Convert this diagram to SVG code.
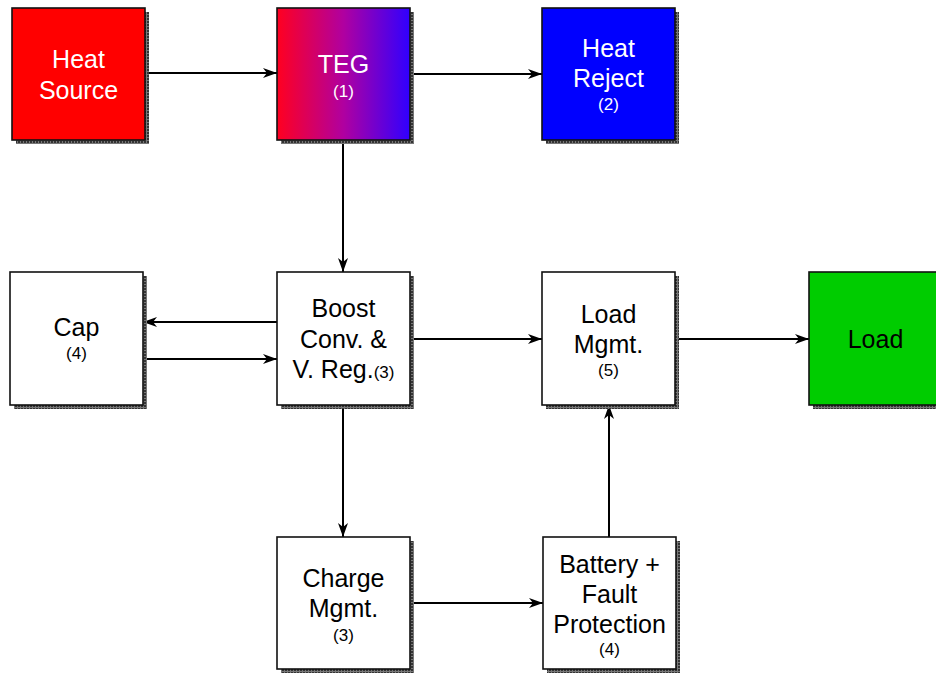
<svg xmlns="http://www.w3.org/2000/svg" width="936" height="673" viewBox="0 0 936 673">
<style>
.box{stroke:#111;stroke-width:1.6}
.sh{fill:url(#chk);stroke:none}
.t{font-family:"Liberation Sans",Arial,sans-serif;font-size:25px;text-anchor:middle;fill:#000}
.w{fill:#fff}
.s{font-size:17px}
.c{fill:none;stroke:#000;stroke-width:2;marker-end:url(#arr)}
</style>
<defs>
<pattern id="chk" width="3" height="3" patternUnits="userSpaceOnUse">
<rect width="3" height="3" fill="#777"/>
<rect width="2" height="2" fill="#333"/>
</pattern>
<linearGradient id="teg" x1="0" y1="0" x2="1" y2="0">
<stop offset="0" stop-color="#ff0020"/>
<stop offset="0.5" stop-color="#b000a0"/>
<stop offset="1" stop-color="#3000ff"/>
</linearGradient>
<marker id="arr" viewBox="0 0 14 10" refX="14" refY="5" markerWidth="14" markerHeight="10" markerUnits="userSpaceOnUse" orient="auto">
<path d="M0,0 L14,5 L0,10 L4,5 Z" fill="#000"/>
</marker>
</defs>
<g id="connectors">
<line class="c" x1="145" y1="73" x2="277" y2="73"/>
<line class="c" x1="410" y1="74" x2="542" y2="74"/>
<line class="c" x1="343" y1="140" x2="343" y2="272"/>
<line class="c" x1="277" y1="322" x2="143" y2="322"/>
<line class="c" x1="143" y1="359" x2="277" y2="359"/>
<line class="c" x1="410" y1="339" x2="542" y2="339"/>
<line class="c" x1="675" y1="339" x2="809" y2="339"/>
<line class="c" x1="343" y1="405" x2="343" y2="537"/>
<line class="c" x1="410" y1="603" x2="543" y2="603"/>
<line class="c" x1="609" y1="537" x2="609" y2="405"/>
</g>
<g id="heat-source">
<rect class="sh" x="16" y="12" width="133" height="132"/>
<rect class="box" x="12" y="8" width="133" height="132" fill="#ff0000"/>
<text class="t w" x="78.5" y="68">Heat</text>
<text class="t w" x="78.5" y="99">Source</text>
</g>
<g id="teg-node">
<rect class="sh" x="281" y="12" width="133" height="132"/>
<rect class="box" x="277" y="8" width="133" height="132" fill="url(#teg)"/>
<text class="t w" x="343.5" y="73">TEG</text>
<text class="t w s" x="343.5" y="97">(1)</text>
</g>
<g id="heat-reject">
<rect class="sh" x="546" y="12" width="133" height="132"/>
<rect class="box" x="542" y="8" width="133" height="132" fill="#0000ff"/>
<text class="t w" x="608.5" y="57">Heat</text>
<text class="t w" x="608.5" y="87">Reject</text>
<text class="t w s" x="608.5" y="110">(2)</text>
</g>
<g id="cap">
<rect class="sh" x="14" y="276" width="133" height="133"/>
<rect class="box" x="10" y="272" width="133" height="133" fill="#fff"/>
<text class="t" x="76.5" y="336">Cap</text>
<text class="t s" x="76.5" y="359">(4)</text>
</g>
<g id="boost">
<rect class="sh" x="281" y="276" width="133" height="133"/>
<rect class="box" x="277" y="272" width="133" height="133" fill="#fff"/>
<text class="t" x="343.5" y="317">Boost</text>
<text class="t" x="343.5" y="348">Conv. &amp;</text>
<text class="t" x="343.5" y="378">V. Reg.<tspan class="s">(3)</tspan></text>
</g>
<g id="load-mgmt">
<rect class="sh" x="546" y="276" width="133" height="133"/>
<rect class="box" x="542" y="272" width="133" height="133" fill="#fff"/>
<text class="t" x="608.5" y="323">Load</text>
<text class="t" x="608.5" y="353">Mgmt.</text>
<text class="t s" x="608.5" y="376">(5)</text>
</g>
<g id="load">
<rect class="sh" x="813" y="276" width="133" height="133"/>
<rect class="box" x="809" y="272" width="133" height="133" fill="#00cc00"/>
<text class="t" x="875.5" y="348">Load</text>
</g>
<g id="charge-mgmt">
<rect class="sh" x="281" y="541" width="133" height="132"/>
<rect class="box" x="277" y="537" width="133" height="132" fill="#fff"/>
<text class="t" x="343.5" y="587">Charge</text>
<text class="t" x="343.5" y="617">Mgmt.</text>
<text class="t s" x="343.5" y="641">(3)</text>
</g>
<g id="battery">
<rect class="sh" x="547" y="541" width="133" height="132"/>
<rect class="box" x="543" y="537" width="133" height="132" fill="#fff"/>
<text class="t" x="609.5" y="573">Battery +</text>
<text class="t" x="609.5" y="603">Fault</text>
<text class="t" x="609.5" y="633">Protection</text>
<text class="t s" x="609.5" y="655">(4)</text>
</g>
</svg>
